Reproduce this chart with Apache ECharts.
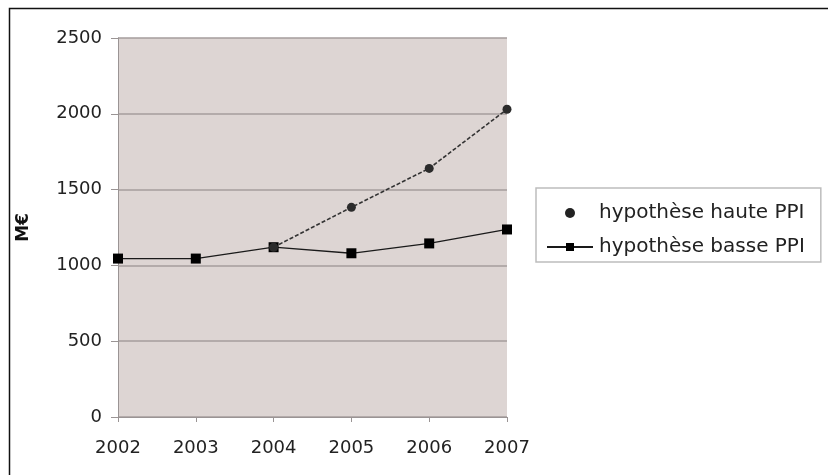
<!DOCTYPE html>
<html>
<head>
<meta charset="utf-8">
<script src="https://cdn.jsdelivr.net/npm/echarts@6/dist/echarts.min.js"></script>
<style>
  html, body { margin: 0; padding: 0; background: #fff; }
  #chart { width: 828px; height: 475px; }
</style>
</head>
<body>
<div id="chart"></div>
<script>
// Years on the horizontal axis
const years = ['2002', '2003', '2004', '2005', '2006', '2007'];
// High-growth scenario (starts where it splits from the low one)
const hauteValues = [null, null, 1120, 1383, 1640, 2030];
// Low-growth scenario
const basseValues = [1045, 1045, 1120, 1080, 1145, 1237];
const serieNames = ['hypothèse haute PPI', 'hypothèse basse PPI'];
const yTicks = [0, 500, 1000, 1500, 2000, 2500];

const chart = echarts.init(document.getElementById('chart'), null, { renderer: 'canvas' });

const font = '"DejaVu Sans", sans-serif';

chart.setOption({
  animation: false,
  backgroundColor: '#ffffff',
  grid: {
    left: 118, top: 38, width: 389, height: 379,
    show: true, backgroundColor: '#ddd5d3', borderWidth: 0
  },
  xAxis: {
    type: 'category',
    data: years,
    boundaryGap: false,
    axisLine: { lineStyle: { color: '#9a9494', width: 1 } },
    axisTick: { show: true, length: 5, lineStyle: { color: '#9a9494' } },
    axisLabel: { color: '#222', fontFamily: font, fontSize: 18, margin: 22 }
  },
  yAxis: {
    type: 'value',
    min: yTicks[0], max: yTicks[yTicks.length - 1], interval: 500,
    name: 'M€',
    nameLocation: 'middle',
    nameGap: 86,
    nameRotate: 90,
    nameTextStyle: { color: '#111', fontFamily: font, fontSize: 17, fontWeight: 'bold' },
    axisLine: { show: true, lineStyle: { color: '#9a9494', width: 1 } },
    axisTick: { show: true, length: 7, lineStyle: { color: '#9a9494' } },
    axisLabel: {
      color: '#222', fontFamily: font, fontSize: 18, margin: 16,
      formatter: (v) => String(v)
    },
    splitLine: { show: true, lineStyle: { color: '#a49c9c', width: 1.5 } }
  },
  legend: {
    orient: 'vertical',
    left: 536, top: 188,
    padding: [15, 16, 5, 10],
    backgroundColor: '#ffffff',
    borderColor: '#bdbdbd', borderWidth: 1.5,
    itemGap: 14,
    itemWidth: 46, itemHeight: 10,
    textStyle: { color: '#222', fontFamily: font, fontSize: 20, padding: [0, 0, 0, 1] },
    data: [
      { name: serieNames[0], icon: 'circle', itemStyle: { color: '#222' } },
      { name: serieNames[1] }
    ]
  },
  series: [
    {
      name: serieNames[0],
      type: 'line',
      data: hauteValues,
      symbol: 'circle',
      symbolSize: 9,
      itemStyle: { color: '#2b2b2b' },
      lineStyle: { color: '#333', width: 1.6, type: [4, 2] },
      z: 3
    },
    {
      name: serieNames[1],
      type: 'line',
      data: basseValues,
      symbol: 'rect',
      symbolSize: 10,
      itemStyle: { color: '#000' },
      lineStyle: { color: '#1a1a1a', width: 1.3 },
      z: 2
    }
  ],
  graphic: [
    {
      type: 'polyline',
      shape: { points: [[828, 8.5], [9.5, 8.5], [9.5, 475]] },
      style: { stroke: '#111', lineWidth: 1.5, fill: null },
      silent: true
    }
  ]
});
</script>
</body>
</html>
